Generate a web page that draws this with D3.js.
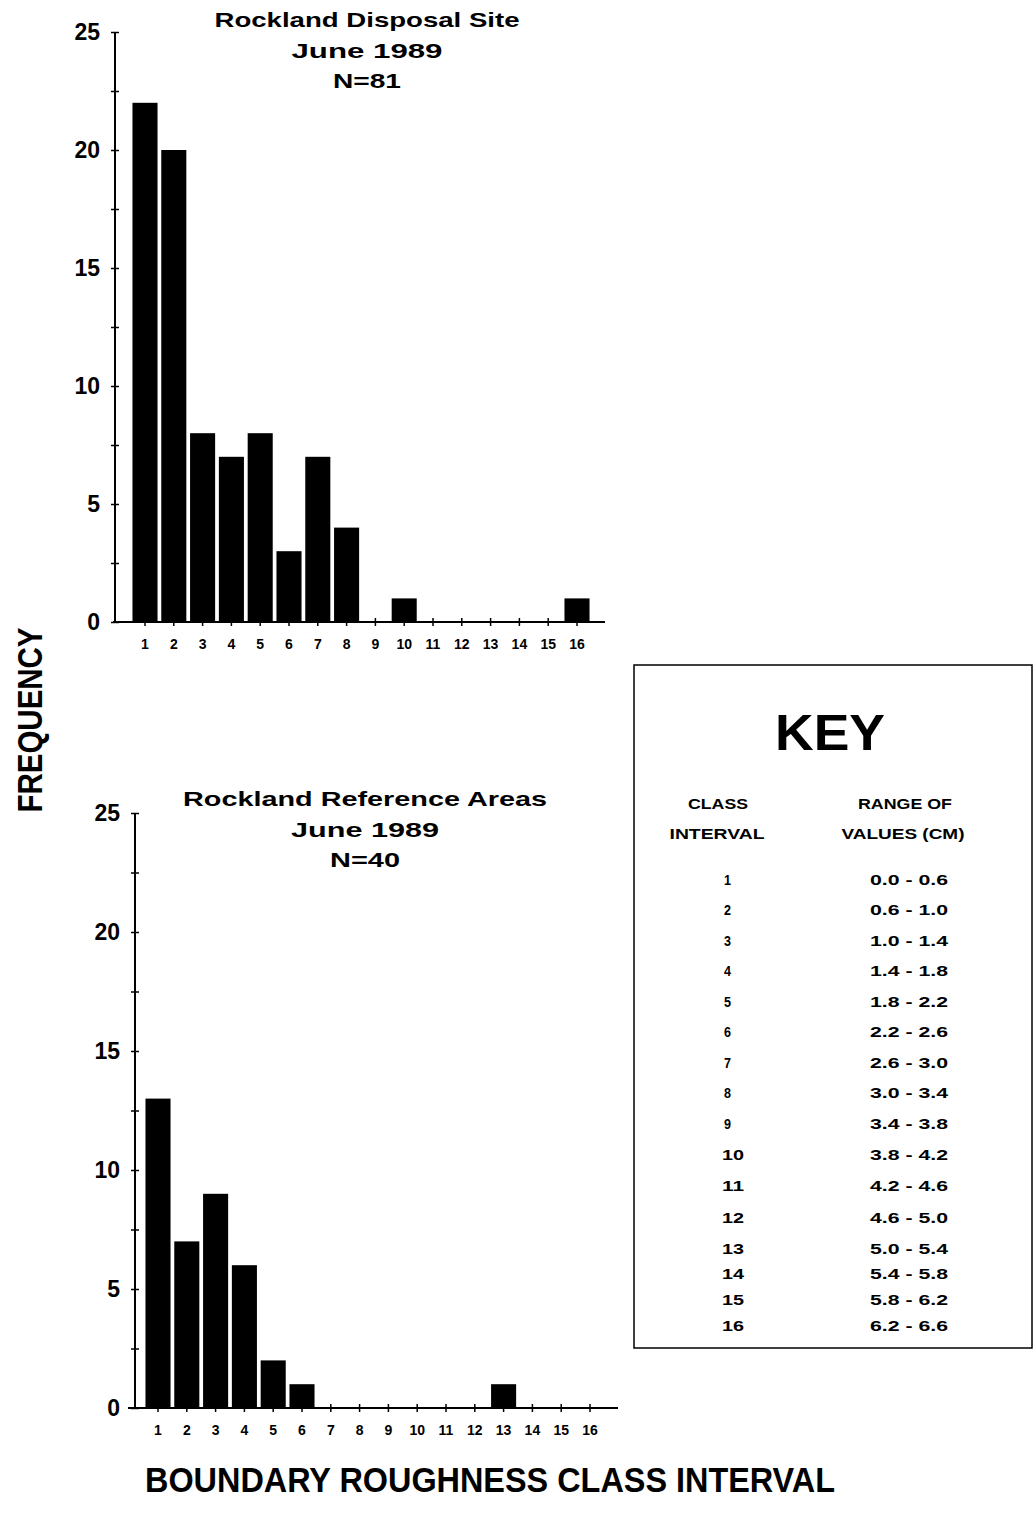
<!DOCTYPE html>
<html><head><meta charset="utf-8">
<script src="https://cdn.jsdelivr.net/npm/d3@7"></script>
<style>
body{margin:0;background:#fff;}
svg{display:block;}
text{font-family:"Liberation Sans",Arial,Helvetica,sans-serif;font-weight:bold;fill:#000;}
</style></head>
<body>
<script>
const categories = [1,2,3,4,5,6,7,8,9,10,11,12,13,14,15,16];
const disposalValues  = [22,20,8,7,8,3,7,4,0,1,0,0,0,0,0,1];
const referenceValues = [13,7,9,6,2,1,0,0,0,0,0,0,1,0,0,0];
const yTickValues = [0,2.5,5,7.5,10,12.5,15,17.5,20,22.5,25];
const yLabelValues = [0,5,10,15,20,25];
const disposalTitle = ["Rockland Disposal Site","June 1989","N=81"];
const referenceTitle = ["Rockland Reference Areas","June 1989","N=40"];
const keyClasses = ["1","2","3","4","5","6","7","8","9","10","11","12","13","14","15","16"];
const keyRanges = ["0.0 - 0.6","0.6 - 1.0","1.0 - 1.4","1.4 - 1.8","1.8 - 2.2","2.2 - 2.6","2.6 - 3.0","3.0 - 3.4","3.4 - 3.8","3.8 - 4.2","4.2 - 4.6","4.6 - 5.0","5.0 - 5.4","5.4 - 5.8","5.8 - 6.2","6.2 - 6.6"];
const keyRowY = [880,910,941,971,1002,1032,1063,1093,1124,1155,1186,1218,1249,1274,1300,1326];

const svg = d3.select("body").append("svg").attr("width",1035).attr("height",1523);

function panel(cfg){
  const g = svg.append("g");
  const y = d3.scaleLinear().domain([0,25]).range([cfg.y0, cfg.y25]);
  const x = d3.scaleBand().domain(categories).range([cfg.xc1-14.4, cfg.xc16+14.4]).paddingInner(0.13).paddingOuter(0.065);
  g.selectAll("rect.bar").data(categories.map((c,i)=>({c,v:cfg.values[i]})).filter(d=>d.v>0))
    .enter().append("rect")
    .attr("x",d=>x(d.c)).attr("width",x.bandwidth())
    .attr("y",d=>y(d.v)).attr("height",d=>y(0)-y(d.v))
    .attr("fill","#000");
  const ya = g.append("g").attr("transform",`translate(${cfg.ax},0)`)
    .call(d3.axisLeft(y).tickValues(yTickValues).tickSize(4).tickFormat(d=>yLabelValues.includes(d)?d:""));
  ya.select(".domain").attr("stroke","#000").attr("stroke-width",2).attr("d",`M0,${cfg.y0}V${cfg.y25}`);
  ya.selectAll(".tick line").attr("x1",-4).attr("x2",4).attr("stroke-width",1.5);
  ya.selectAll(".tick text").attr("x",-15).style("font-size","23px").style("font-family","'Liberation Sans',Arial,sans-serif").style("font-weight","bold");
  const xa = g.append("g").attr("transform",`translate(0,${cfg.y0})`)
    .call(d3.axisBottom(x).tickSize(4));
  xa.select(".domain").attr("stroke","#000").attr("stroke-width",2).attr("d",`M${cfg.xl},0H${cfg.xr}`);
  xa.selectAll(".tick line").attr("y1",-4).attr("y2",4).attr("stroke-width",1.5);
  xa.selectAll(".tick text").attr("y",17).style("font-size","14px").style("font-family","'Liberation Sans',Arial,sans-serif").style("font-weight","bold");
  cfg.title.forEach((t,i)=>{
    g.append("text").attr("x",cfg.tx).attr("y",cfg.ty+i*30.5).attr("text-anchor","middle")
      .attr("textLength",cfg.tw[i]).attr("lengthAdjust","spacingAndGlyphs")
      .style("font-size","21px").text(t);
  });
}

panel({values:disposalValues, y0:622, y25:32, ax:115, xl:113, xr:605, xc1:145, xc16:577, title:disposalTitle, tw:[305,151,68], tx:367, ty:27});
panel({values:referenceValues, y0:1408, y25:813, ax:135, xl:128, xr:618, xc1:158, xc16:590, title:referenceTitle, tw:[364,148,70], tx:365, ty:806});

svg.append("text").attr("transform","translate(42,720) rotate(-90)").attr("text-anchor","middle")
  .attr("textLength",185).attr("lengthAdjust","spacingAndGlyphs")
  .style("font-size","35px").text("FREQUENCY");
svg.append("text").attr("x",490).attr("y",1492).attr("text-anchor","middle")
  .attr("textLength",690).attr("lengthAdjust","spacingAndGlyphs")
  .style("font-size","35px").text("BOUNDARY ROUGHNESS CLASS INTERVAL");

svg.append("rect").attr("x",634).attr("y",665).attr("width",398).attr("height",683)
  .attr("fill","none").attr("stroke","#000").attr("stroke-width",1.5);
svg.append("text").attr("x",830).attr("y",750).attr("text-anchor","middle")
  .attr("textLength",110).attr("lengthAdjust","spacingAndGlyphs").style("font-size","50px").text("KEY");
[["CLASS",718,809,60],["INTERVAL",717,839,95],["RANGE OF",905,809,94],["VALUES (CM)",903,839,123]].forEach(d=>{
  svg.append("text").attr("x",d[1]).attr("y",d[2]).attr("text-anchor","middle")
    .attr("textLength",d[3]).attr("lengthAdjust","spacingAndGlyphs").style("font-size","15px").text(d[0]);
});
keyClasses.forEach((c,i)=>{
  svg.append("text").attr("x",c.length>1?722:724).attr("y",keyRowY[i]+5).attr("text-anchor","start")
    .attr("textLength",c.length>1?22:7).attr("lengthAdjust","spacingAndGlyphs").style("font-size","15px").text(c);
  svg.append("text").attr("x",870).attr("y",keyRowY[i]+5).attr("text-anchor","start")
    .attr("textLength",78).attr("lengthAdjust","spacingAndGlyphs").style("font-size","15px").text(keyRanges[i]);
});
</script>
</body></html>
